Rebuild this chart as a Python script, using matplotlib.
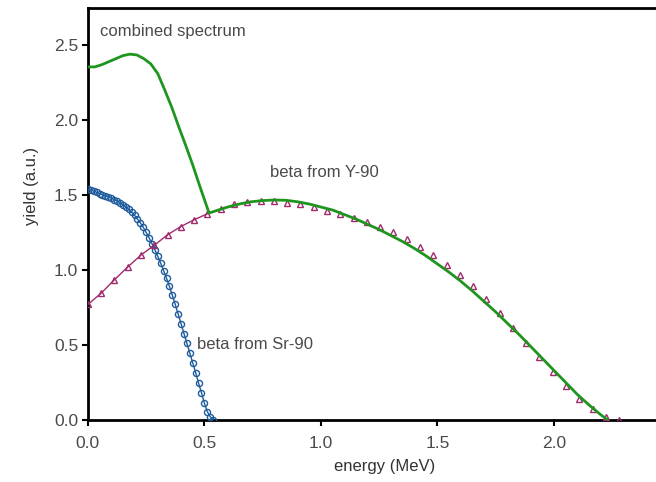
import matplotlib
matplotlib.use("Agg")
import matplotlib.pyplot as plt

# Sr-90 beta spectrum (open circles joined by a thin line)
sr_energy = [0.0, 0.0125, 0.025, 0.0375, 0.05, 0.0625, 0.075, 0.0875, 0.1, 0.1125,
             0.125, 0.1375, 0.15, 0.1625, 0.175, 0.1875, 0.2, 0.2125, 0.225, 0.2375,
             0.25, 0.2625, 0.275, 0.2875, 0.3, 0.3125, 0.325, 0.3375, 0.35, 0.3625,
             0.375, 0.3875, 0.4, 0.4125, 0.425, 0.4375, 0.45, 0.4625, 0.475, 0.4875,
             0.5, 0.5125, 0.525, 0.5375]
sr_yield = [1.540, 1.534, 1.526, 1.518, 1.510, 1.502, 1.494, 1.487, 1.480, 1.470,
            1.460, 1.450, 1.435, 1.420, 1.405, 1.385, 1.365, 1.340, 1.315, 1.285,
            1.250, 1.215, 1.175, 1.135, 1.090, 1.045, 0.995, 0.945, 0.890, 0.830,
            0.770, 0.705, 0.640, 0.575, 0.510, 0.445, 0.380, 0.315, 0.245, 0.180,
            0.110, 0.055, 0.020, 0.0]

# Y-90 beta spectrum (open triangles)
y_energy = [0.0, 0.057, 0.114, 0.171, 0.228, 0.285, 0.342, 0.399, 0.456, 0.513,
            0.570, 0.627, 0.684, 0.741, 0.798, 0.855, 0.912, 0.969, 1.026, 1.083,
            1.140, 1.197, 1.254, 1.311, 1.368, 1.425, 1.482, 1.539, 1.596, 1.653,
            1.710, 1.767, 1.824, 1.881, 1.938, 1.995, 2.052, 2.109, 2.166, 2.223,
            2.280]
y_yield = [0.770, 0.845, 0.935, 1.020, 1.100, 1.165, 1.235, 1.290, 1.335, 1.375,
           1.405, 1.440, 1.455, 1.457, 1.457, 1.450, 1.440, 1.420, 1.395, 1.375,
           1.350, 1.318, 1.290, 1.250, 1.205, 1.152, 1.098, 1.035, 0.965, 0.890,
           0.805, 0.715, 0.615, 0.515, 0.418, 0.318, 0.225, 0.140, 0.075, 0.022,
           0.0]

# Combined spectrum
comb_energy = [0.0, 0.03, 0.06, 0.09, 0.12, 0.15, 0.18, 0.21, 0.24, 0.27,
               0.30, 0.33, 0.36, 0.39, 0.42, 0.45, 0.48, 0.50, 0.52, 0.55,
               0.60, 0.65, 0.70, 0.75, 0.80, 0.85, 0.90, 0.95, 1.00, 1.05,
               1.10, 1.15, 1.20, 1.25, 1.30, 1.35, 1.40, 1.45, 1.50, 1.55,
               1.60, 1.65, 1.70, 1.75, 1.80, 1.85, 1.90, 1.95, 2.00, 2.05,
               2.10, 2.15, 2.20, 2.23]
comb_yield = [2.355, 2.355, 2.370, 2.390, 2.410, 2.430, 2.440, 2.435, 2.410, 2.375,
              2.310, 2.200, 2.085, 1.955, 1.830, 1.700, 1.560, 1.470, 1.380, 1.395,
              1.420, 1.440, 1.455, 1.463, 1.467, 1.465, 1.455, 1.440, 1.420, 1.400,
              1.370, 1.340, 1.305, 1.270, 1.230, 1.190, 1.145, 1.095, 1.040, 0.985,
              0.925, 0.860, 0.790, 0.720, 0.645, 0.570, 0.490, 0.410, 0.330, 0.250,
              0.170, 0.100, 0.035, 0.0]

x_ticks = [0.0, 0.5, 1.0, 1.5, 2.0]
y_ticks = [0.0, 0.5, 1.0, 1.5, 2.0, 2.5]

plt.rcParams["font.family"] = ["Liberation Sans", "DejaVu Sans"]

GREEN = "#1e961e"
BLUE = "#1f5c9c"
PURPLE = "#a02a6c"
TEXT = "#4a4a4a"

fig = plt.figure(figsize=(6.56, 4.82), dpi=100)
ax = fig.add_axes([0.134, 0.129, 0.888, 0.855])

ax.plot(sr_energy, sr_yield, color=BLUE, lw=1.0, marker="o", ms=4.4,
        mfc="none", mec=BLUE, mew=1.0, zorder=3)

# thin line through the low-energy triangles, the rest lies under the combined curve
n_low = sum(1 for e in y_energy if e <= 0.53)
ax.plot(y_energy[:n_low], y_yield[:n_low], color=PURPLE, lw=1.0, zorder=3)
ax.plot(y_energy, y_yield, ls="none", marker="^", ms=5, mfc="none",
        mec=PURPLE, mew=1.0, zorder=4)

ax.plot(comb_energy, comb_yield, color=GREEN, lw=2.0, zorder=5)

ax.set_xlim(0, 2.5)
ax.set_ylim(0, 2.75)
ax.set_xticks(x_ticks)
ax.set_yticks(y_ticks)
ax.set_xticklabels([f"{t:.1f}" for t in x_ticks])
ax.set_yticklabels([f"{t:.1f}" for t in y_ticks])

for s in ax.spines.values():
    s.set_linewidth(2.0)
    s.set_color("black")

ax.tick_params(axis="both", direction="out", length=4, width=1.5, color="black",
               labelsize=12.5, labelcolor=TEXT)
ax.tick_params(axis="x", pad=8)
ax.tick_params(axis="y", pad=3)

ax.set_xlabel("energy (MeV)", fontsize=12, color="#333333")
ax.xaxis.set_label_coords(0.509, -0.114)
ax.xaxis.label.set_va("center")
ax.set_ylabel("yield (a.u.)", fontsize=12, color="#333333")
ax.yaxis.set_label_coords(-0.097, 0.568)
ax.yaxis.label.set_va("center")

ax.text(0.05, 2.59, "combined spectrum", fontsize=12, color=TEXT, va="center", ha="left")
ax.text(0.78, 1.65, "beta from Y-90", fontsize=12, color=TEXT, va="center", ha="left")
ax.text(0.468, 0.50, "beta from Sr-90", fontsize=12, color=TEXT, va="center", ha="left")

fig.savefig("out.png", dpi=100)
